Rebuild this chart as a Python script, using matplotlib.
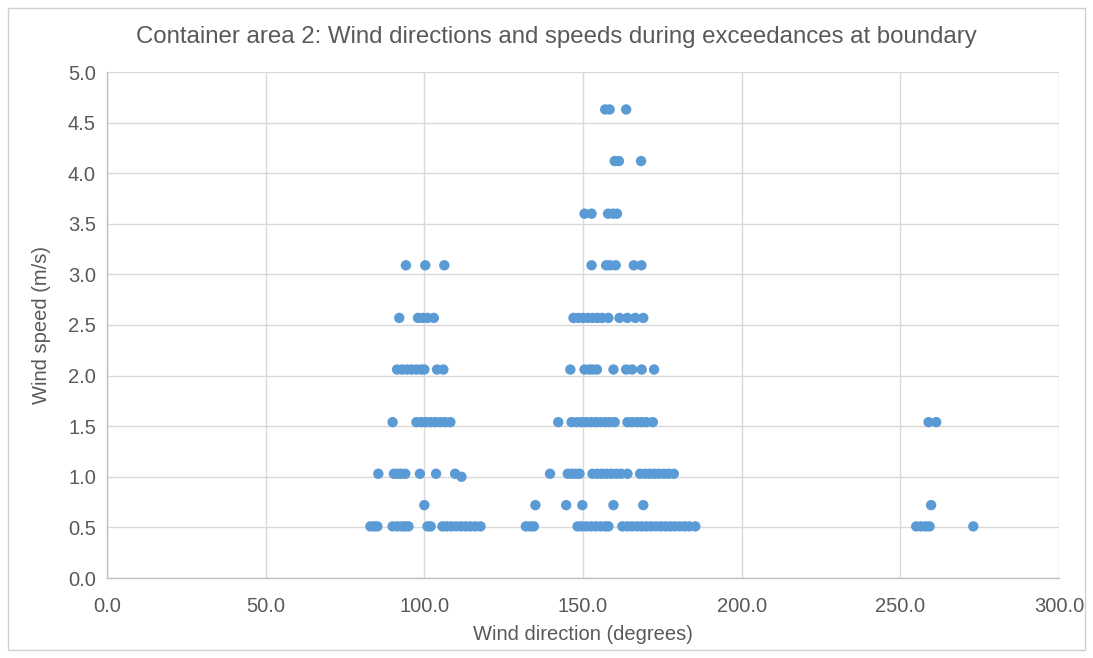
import matplotlib
matplotlib.use("Agg")
import matplotlib.pyplot as plt
from matplotlib.patches import Rectangle

plt.rcParams['font.family'] = ['Liberation Sans', 'DejaVu Sans']

# Wind direction (degrees) for each observed wind speed (m/s)
dir_051 = [83, 84.2, 85.2, 90, 91.5, 93, 94, 95, 101, 102,
           105.7, 107, 108.5, 110, 111.5, 113, 114.5, 116, 117.7,
           132, 133.5, 134.5,
           148.3, 149.5, 151, 152.5, 154, 155.5, 157, 158,
           162.4, 164, 165.5, 167, 168.5, 170, 171.5, 173, 174.5,
           176, 177.5, 179, 180.5, 182, 183.5, 185.4,
           255, 256.5, 258, 259.2, 273]
dir_072 = [100, 135, 144.7, 149.8, 159.6, 169, 259.7]
dir_100 = [111.7]
dir_103 = [85.5, 90.4, 91.5, 92.7, 94, 98.6, 103.7, 109.7,
           139.6, 145.2, 146.5, 147.7, 148.9,
           153, 154.5, 156, 157.5, 159, 160.5, 162, 164,
           168, 169.5, 171, 172.5, 174, 175.5, 177, 178.6]
dir_154 = [90, 97.5, 99, 100.5, 102, 103.5, 105, 106.5, 108.2,
           142.2, 146.4, 148, 149.5, 151, 152.5, 154, 155.5, 157, 158.5, 160,
           164, 165.5, 167, 168.5, 170, 172,
           258.9, 261.3]
dir_206 = [91.4, 93, 94.5, 96, 97.5, 99, 100, 104, 106,
           146, 150.5, 152, 153, 154.4, 159.6, 163.6, 165.5, 168.5, 172.4]
dir_257 = [92.1, 98, 99.5, 101, 103,
           147, 148.5, 150, 151.5, 153, 154.5, 156, 158,
           161.5, 164, 166.5, 169]
dir_309 = [94.2, 100.3, 106.3, 152.7, 157.3, 158.5, 160.3, 166, 168.4]
dir_360 = [150.5, 152.7, 157.9, 159.5, 160.7]
dir_412 = [160, 161.3, 168.3]
dir_463 = [157, 158.4, 163.6]

speed_rows = [
    (0.51, dir_051), (0.72, dir_072), (1.00, dir_100), (1.03, dir_103),
    (1.54, dir_154), (2.06, dir_206), (2.57, dir_257), (3.09, dir_309),
    (3.60, dir_360), (4.12, dir_412), (4.63, dir_463),
]

x_ticks = [0, 50, 100, 150, 200, 250, 300]
y_ticks = [0.0, 0.5, 1.0, 1.5, 2.0, 2.5, 3.0, 3.5, 4.0, 4.5, 5.0]

title = "Container area 2: Wind directions and speeds during exceedances at boundary"
x_label = "Wind direction (degrees)"
y_label = "Wind speed (m/s)"

text_color = "#595959"
grid_color = "#D9D9D9"
point_color = "#5B9BD5"

W, H = 1093, 658
fig = plt.figure(figsize=(W / 100, H / 100), dpi=100)
fig.patch.set_facecolor("white")

# chart frame
fig.add_artist(Rectangle((8 / W, 8 / H), (1085 - 8) / W, (650 - 8) / H,
                         transform=fig.transFigure, fill=False,
                         edgecolor="#D0D0D0", linewidth=1.0))

left, right, top, bottom = 107, 1059, 72, 578
ax = fig.add_axes([left / W, 1 - bottom / H, (right - left) / W, (bottom - top) / H])

xs, ys = [], []
for speed, dirs in speed_rows:
    xs.extend(dirs)
    ys.extend([speed] * len(dirs))
ax.scatter(xs, ys, s=56, color=point_color, edgecolors="none", zorder=3)

ax.set_xlim(0, 300)
ax.set_ylim(0, 5)
ax.set_xticks(x_ticks)
ax.set_xticklabels([f"{v:.1f}" for v in x_ticks])
ax.set_yticks(y_ticks)
ax.set_yticklabels([f"{v:.1f}" for v in y_ticks])
ax.grid(True, color=grid_color, linewidth=1.0, zorder=0)
ax.set_axisbelow(True)
for side in ("top", "right"):
    ax.spines[side].set_visible(False)
for side in ("left", "bottom"):
    ax.spines[side].set_color("#BFBFBF")
    ax.spines[side].set_linewidth(1.0)
ax.tick_params(axis="x", length=0, labelsize=14.5, labelcolor=text_color, pad=14)
ax.tick_params(axis="y", length=0, labelsize=14.5, labelcolor=text_color, pad=8)

ax.set_xlabel(x_label, fontsize=14.5, color=text_color, labelpad=6)
ax.set_ylabel(y_label, fontsize=14.5, color=text_color, labelpad=12)
fig.text(556 / W, 1 - 37 / H, title, ha="center", va="center",
         fontsize=17.3, color=text_color)

fig.savefig("out.png", dpi=100)
